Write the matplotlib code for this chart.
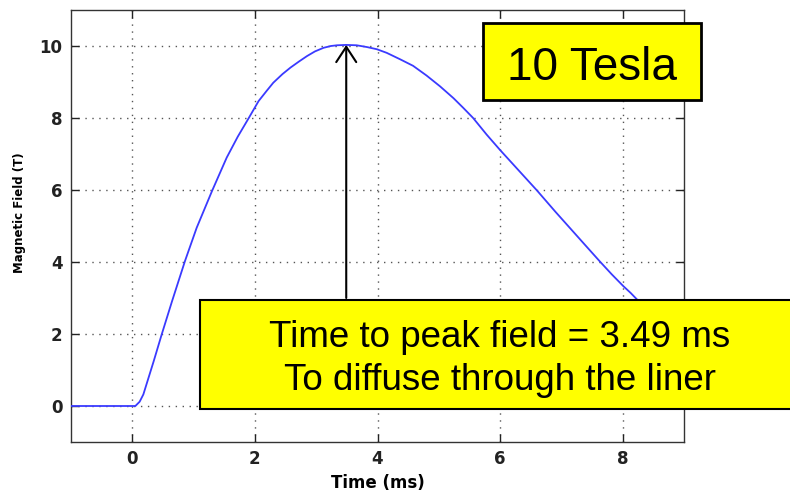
import matplotlib
matplotlib.use("Agg")
import matplotlib.pyplot as plt
from matplotlib.patches import Rectangle

# Data
time_ms = [-1.0, 0.05, 0.12, 0.18, 0.35, 0.48, 0.65, 0.86, 1.05, 1.30, 1.54, 1.72,
           1.90, 2.06, 2.19, 2.30, 2.45, 2.58, 2.72, 2.85, 2.98, 3.12, 3.24,
           3.34, 3.49, 3.66, 3.83, 3.99, 4.15, 4.37, 4.58, 4.80, 5.02, 5.24,
           5.40, 5.56, 5.78, 6.00, 6.30, 6.60, 6.90, 7.22, 7.43, 7.63, 7.82,
           8.01, 8.13, 8.25, 8.60]
field_T = [0.0, 0.0, 0.12, 0.32, 1.25, 1.99, 2.92, 4.03, 4.95, 5.97, 6.90, 7.48,
           8.00, 8.47, 8.75, 8.98, 9.22, 9.40, 9.57, 9.72, 9.85, 9.95, 10.00,
           10.02, 10.03, 10.02, 9.97, 9.91, 9.81, 9.63, 9.45, 9.18, 8.88, 8.55,
           8.28, 8.00, 7.54, 7.11, 6.55, 5.99, 5.40, 4.79, 4.39, 4.01, 3.66,
           3.33, 3.14, 2.93, 2.30]
x_ticks = [0, 2, 4, 6, 8]
y_ticks = [0, 2, 4, 6, 8, 10]
peak_time = 3.49
peak_field = 10.03
arrow_base = 3.0
title_box_text = "10 Tesla"
note_lines = ["Time to peak field = 3.49 ms", "To diffuse through the liner"]

W, H = 790, 496
fig = plt.figure(figsize=(W / 100, H / 100), dpi=100)
ax = fig.add_axes([71 / W, 1 - 442 / H, (684 - 71) / W, (442 - 10) / H])

ax.plot(time_ms, field_T, color="#3a3aff", lw=1.3, zorder=3)
ax.set_xlim(-1, 9)
ax.set_ylim(-1, 11)
ax.set_xticks(x_ticks)
ax.set_yticks(y_ticks)
ax.grid(True, color="#555555", linestyle=(0, (1, 4)), lw=1.0)
ax.tick_params(direction="in", length=6, width=1, top=True, right=True,
               labelsize=12, colors="#222222", pad=6)
for lab in ax.get_xticklabels() + ax.get_yticklabels():
    lab.set_fontweight("bold")
for sp in ax.spines.values():
    sp.set_color("#333333")
    sp.set_linewidth(1.0)
ax.set_xlabel("Time (ms)", fontsize=12, fontweight="bold", labelpad=4)
ax.set_ylabel("Magnetic Field (T)", fontsize=8.5, fontweight="bold")
ax.yaxis.set_label_coords(-0.073, 0.53)

ax.annotate("", xy=(peak_time, peak_field), xytext=(peak_time, arrow_base),
            arrowprops=dict(arrowstyle="->,head_length=0.55,head_width=0.36",
                            color="black", lw=1.5, mutation_scale=20,
                            shrinkA=0, shrinkB=0), zorder=4)

def fx(px):
    return px / W

def fy(py):
    return 1 - py / H

# "10 Tesla" box
fig.patches.append(Rectangle((fx(483), fy(100)), fx(701) - fx(483), fy(23) - fy(100),
                             transform=fig.transFigure, facecolor="#ffff00",
                             edgecolor="black", lw=2, zorder=5))
fig.text(fx(592), fy(80), title_box_text, fontsize=33, family="Liberation Sans",
         ha="center", va="baseline", zorder=6)

# note box
fig.patches.append(Rectangle((fx(200), fy(409)), fx(800) - fx(200), fy(300) - fy(409),
                             transform=fig.transFigure, facecolor="#ffff00",
                             edgecolor="black", lw=1.5, zorder=5))
fig.text(fx(500), fy(347), note_lines[0], fontsize=26.5, family="Liberation Sans",
         ha="center", va="baseline", zorder=6)
fig.text(fx(500), fy(390), note_lines[1], fontsize=26.5, family="Liberation Sans",
         ha="center", va="baseline", zorder=6)

fig.savefig("out.png", dpi=100)
